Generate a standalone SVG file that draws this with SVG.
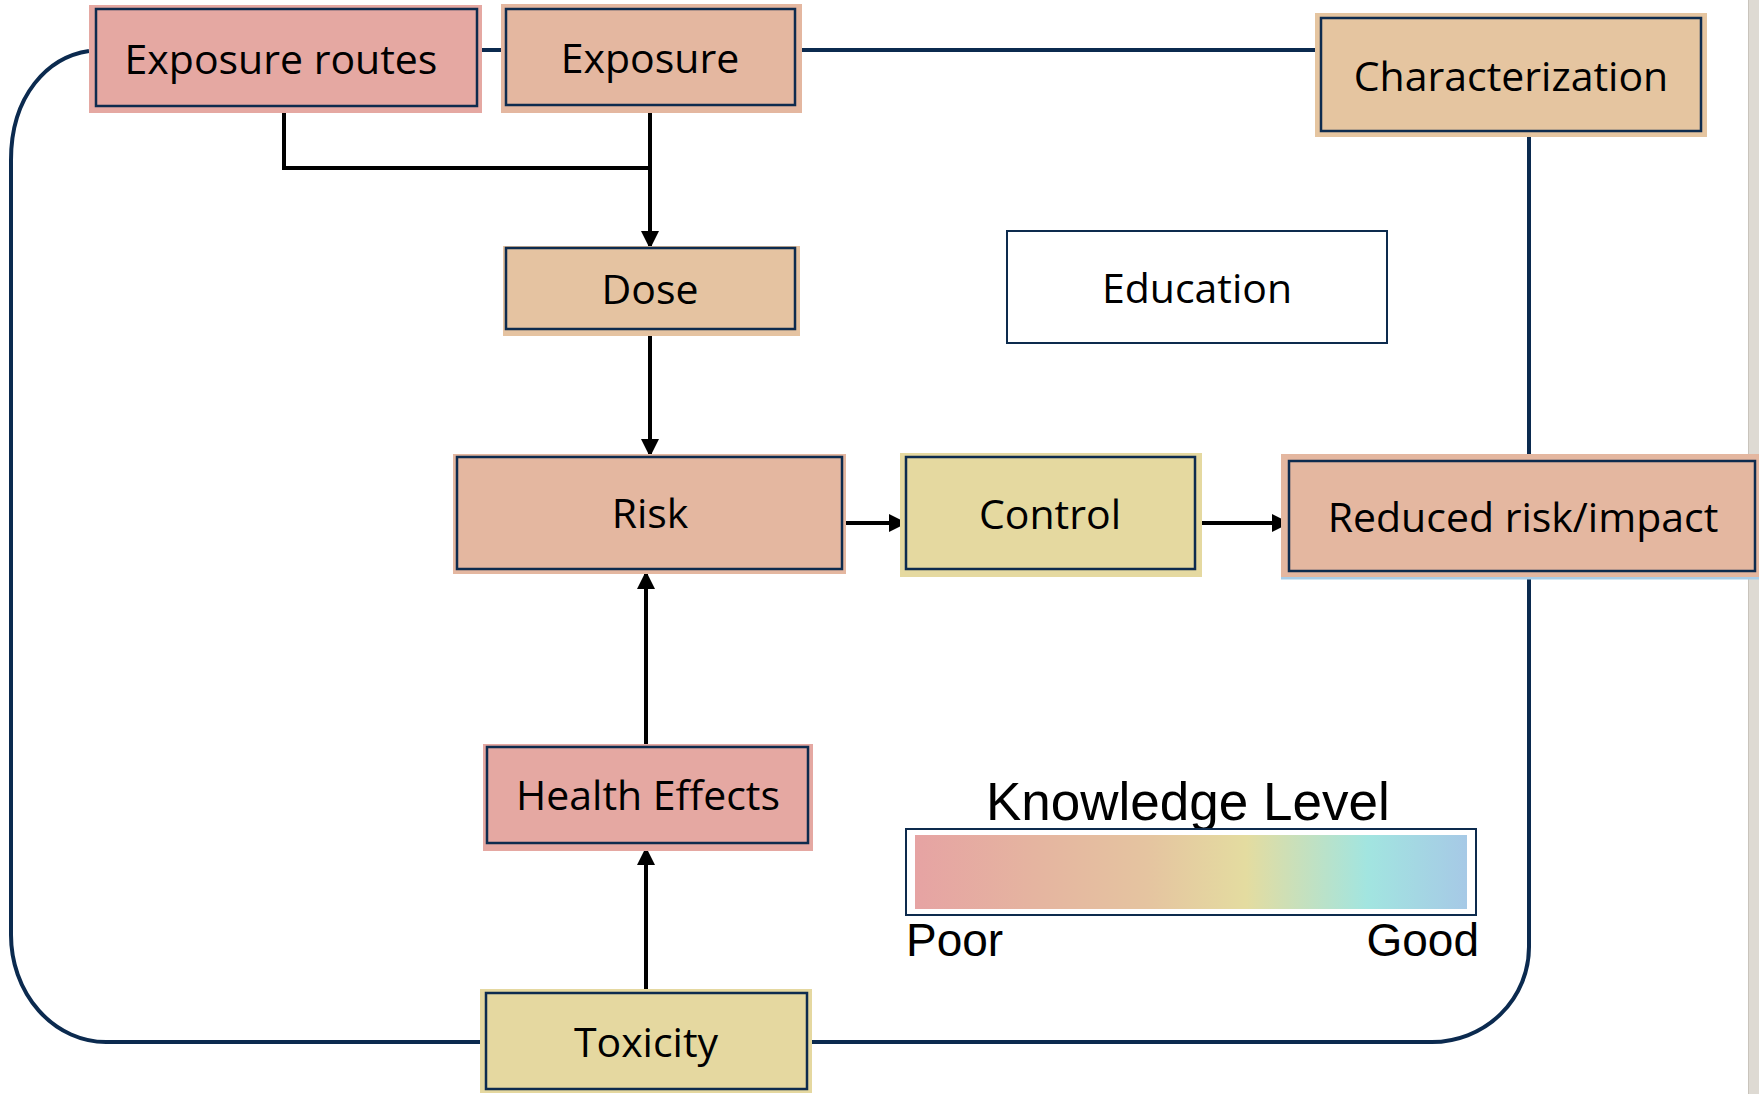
<svg xmlns="http://www.w3.org/2000/svg" width="1759" height="1094" viewBox="0 0 1759 1094">
  <style>
    .lbl { font-family: "Open Sans", "Noto Sans", sans-serif; font-size: 41px; fill: #000; text-anchor: middle; }
    .leg { font-family: "Liberation Sans", Arial, sans-serif; fill: #000; }
    .frame { fill: none; stroke: #0D2B4E; stroke-width: 2.5; }
    .loop { fill: none; stroke: #0B2A4F; stroke-width: 4; }
    .arrow { fill: none; stroke: #000; stroke-width: 4; }
    .pink { fill: #E5A8A2; }
    .salmon { fill: #E4B7A0; }
    .tan { fill: #E5C3A1; }
    .yellow { fill: #E5D8A0; }
  </style>
  <defs>
    <marker id="ah" viewBox="0 0 18 18" markerWidth="18" markerHeight="18" refX="18" refY="9" orient="auto" markerUnits="userSpaceOnUse">
      <path d="M0,0 L18,9 L0,18 z" fill="#000"/>
    </marker>
    <linearGradient id="kg" x1="0" y1="0" x2="1" y2="0">
      <stop offset="0" stop-color="#E6A3A3"/>
      <stop offset="0.2" stop-color="#E5B3A0"/>
      <stop offset="0.42" stop-color="#E5C4A0"/>
      <stop offset="0.6" stop-color="#E4DCA0"/>
      <stop offset="0.82" stop-color="#A2E5E0"/>
      <stop offset="1" stop-color="#A6C9E6"/>
    </linearGradient>
  </defs>
  <rect x="0" y="0" width="1759" height="1094" fill="#fff"/>
  <rect x="1748" y="0" width="11" height="1094" fill="#DEDAD3"/>
  <line x1="1748.5" y1="0" x2="1748.5" y2="1094" stroke="#C9C4BC" stroke-width="1"/>

  <g id="connectors">
    <path class="loop" d="M482,50 H501"/>
    <path class="loop" d="M802,50 H1315"/>
    <path class="loop" d="M1529,137 V454"/>
    <path class="loop" d="M1529,577 V947 A97 95 0 0 1 1432,1042 H812"/>
    <path class="loop" d="M480,1042 H106 A95 107 0 0 1 11,935 V160 C11,95 48,57 89,51"/>
    <path class="arrow" d="M284,113 V168 H650"/>
    <path class="arrow" d="M650,113 V249" marker-end="url(#ah)"/>
    <path class="arrow" d="M650,336 V457" marker-end="url(#ah)"/>
    <path class="arrow" d="M646,744 V571" marker-end="url(#ah)"/>
    <path class="arrow" d="M646,989 V847" marker-end="url(#ah)"/>
    <path class="arrow" d="M843,523 H907" marker-end="url(#ah)"/>
    <path class="arrow" d="M1196,523 H1290" marker-end="url(#ah)"/>
  </g>

  <g id="exposure-routes">
    <rect class="pink" x="89" y="5" width="393" height="108"/>
    <rect class="frame" x="96" y="9" width="381" height="97"/>
    <text class="lbl" x="281" y="74">Exposure routes</text>
  </g>
  <g id="exposure">
    <rect class="salmon" x="501" y="4" width="301" height="109"/>
    <rect class="frame" x="506" y="9" width="289" height="96"/>
    <text class="lbl" x="650" y="73">Exposure</text>
  </g>
  <g id="characterization">
    <rect class="tan" x="1315" y="13" width="392" height="124" style="fill:#E5C5A0"/>
    <rect class="frame" x="1321" y="18" width="380" height="113"/>
    <text class="lbl" x="1511" y="91">Characterization</text>
  </g>
  <g id="dose">
    <rect class="tan" x="503" y="246" width="297" height="90"/>
    <rect class="frame" x="506" y="248" width="289" height="81"/>
    <text class="lbl" x="650" y="304">Dose</text>
  </g>
  <g id="education">
    <rect x="1007" y="231" width="380" height="112" fill="#fff" stroke="#0D2B4E" stroke-width="2"/>
    <text class="lbl" x="1197" y="303">Education</text>
  </g>
  <g id="risk">
    <rect class="salmon" x="453" y="454" width="393" height="120"/>
    <rect class="frame" x="457" y="457" width="385" height="112"/>
    <text class="lbl" x="650" y="528">Risk</text>
  </g>
  <g id="control">
    <rect class="yellow" x="900" y="453" width="302" height="124" style="fill:#E5D9A0"/>
    <rect class="frame" x="906" y="457" width="289" height="112"/>
    <text class="lbl" x="1050" y="529">Control</text>
  </g>
  <g id="reduced-risk">
    <rect x="1281" y="577" width="478" height="2.5" fill="#A8CDE8"/>
    <rect class="salmon" x="1281" y="454" width="478" height="123"/>
    <rect class="frame" x="1289" y="461" width="466" height="110"/>
    <text class="lbl" x="1523" y="532">Reduced risk/impact</text>
  </g>
  <g id="health-effects">
    <rect class="pink" x="483" y="744" width="330" height="107"/>
    <rect class="frame" x="487" y="747" width="321" height="96"/>
    <text class="lbl" x="648" y="810">Health Effects</text>
  </g>
  <g id="toxicity">
    <rect class="yellow" x="480" y="989" width="332" height="104"/>
    <rect class="frame" x="486" y="993" width="321" height="96"/>
    <text class="lbl" x="646" y="1057">Toxicity</text>
  </g>

  <g id="legend">
    <text class="leg" x="986" y="820" font-size="53">Knowledge Level</text>
    <rect x="906" y="829" width="570" height="86" fill="#fff" stroke="#0D2B4E" stroke-width="2"/>
    <rect x="915" y="835" width="552" height="74" fill="url(#kg)"/>
    <text class="leg" x="906" y="956" font-size="46">Poor</text>
    <text class="leg" x="1479" y="956" font-size="46" text-anchor="end">Good</text>
  </g>
</svg>
